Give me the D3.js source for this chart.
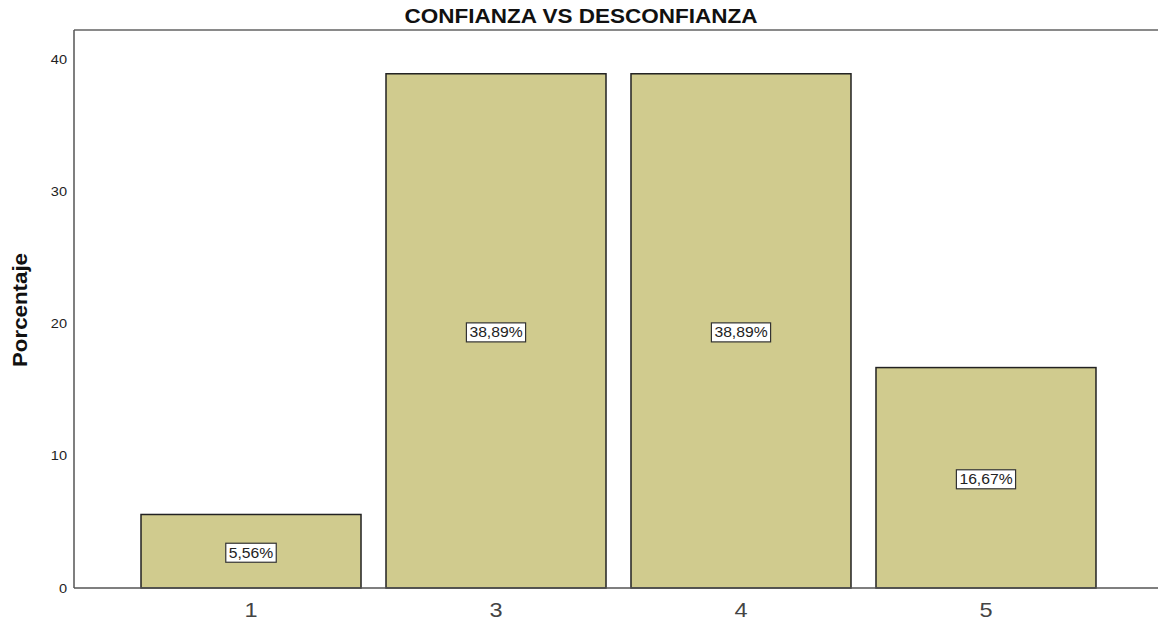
<!DOCTYPE html>
<html>
<head>
<meta charset="utf-8">
<script src="https://cdn.jsdelivr.net/npm/d3@7"></script>
<style>
  body { margin: 0; background: #fff; }
  text { font-family: "Liberation Sans", Arial, sans-serif; }
</style>
</head>
<body>
<div id="chart"></div>
<script>
// Data
var categories = ["1", "3", "4", "5"];
var percentages = [5.56, 38.89, 38.89, 16.67];
var labels = ["5,56%", "38,89%", "38,89%", "16,67%"];
var yTicks = [0, 10, 20, 30, 40];

var svgWidth = 1158;
var svgHeight = 623;

var margin = { top: 30, right: -5, bottom: 35, left: 74 };
var width = svgWidth - margin.left - margin.right;
var height = svgHeight - margin.top - margin.bottom;

// text in the original is slightly wider than Liberation Sans
var stretch = 1.12;
function widen(sel) {
  sel.each(function () {
    var w = this.getComputedTextLength();
    d3.select(this)
      .attr("textLength", w * stretch)
      .attr("lengthAdjust", "spacingAndGlyphs");
  });
}

var svg = d3.select("#chart").append("svg")
  .attr("width", svgWidth)
  .attr("height", svgHeight);

var chartGroup = svg.append("g")
  .attr("transform", `translate(${margin.left}, ${margin.top})`);

// Scales
var xScale = d3.scaleBand()
  .domain(categories)
  .range([0, width])
  .paddingInner(0.102)
  .paddingOuter(0.2735);

var yScale = d3.scaleLinear()
  .domain([0, 42.2])
  .range([height, 0]);

// Frame (top + left)
chartGroup.append("line")
  .attr("x1", 0).attr("x2", width)
  .attr("y1", 0).attr("y2", 0)
  .attr("stroke", "#8a8a8a").attr("stroke-width", 2);
chartGroup.append("line")
  .attr("x1", 0).attr("x2", 0)
  .attr("y1", 0).attr("y2", height)
  .attr("stroke", "#555").attr("stroke-width", 1.5);

// Bars
chartGroup.selectAll(".bar")
  .data(percentages)
  .enter()
  .append("rect")
  .attr("class", "bar")
  .attr("x", (d, i) => xScale(categories[i]))
  .attr("y", d => yScale(d))
  .attr("width", xScale.bandwidth())
  .attr("height", d => height - yScale(d))
  .attr("fill", "#d0cb8e")
  .attr("stroke", "#222")
  .attr("stroke-width", 1.5);

// Bottom axis line
chartGroup.append("line")
  .attr("x1", 0).attr("x2", width)
  .attr("y1", height).attr("y2", height)
  .attr("stroke", "#555").attr("stroke-width", 1.5);

// Y axis ticks (labels only)
var leftAxis = d3.axisLeft(yScale).tickValues(yTicks).tickSize(0).tickPadding(7);
var yAxis = chartGroup.append("g").call(leftAxis);
yAxis.select(".domain").remove();
yAxis.selectAll("text")
  .attr("font-size", "13px")
  .attr("fill", "#222")
  .style("font-family", "'Liberation Sans', Arial, sans-serif")
  .call(widen);

// X axis labels
var bottomAxis = d3.axisBottom(xScale).tickSize(0).tickPadding(14);
var xAxis = chartGroup.append("g")
  .attr("transform", `translate(0, ${height})`)
  .call(bottomAxis);
xAxis.select(".domain").remove();
xAxis.selectAll("text")
  .attr("font-size", "21px")
  .attr("fill", "#444")
  .style("font-family", "'Liberation Sans', Arial, sans-serif")
  .call(widen);

// Value labels
var labelGroups = chartGroup.selectAll(".valLabel")
  .data(percentages)
  .enter()
  .append("g")
  .attr("class", "valLabel")
  .attr("transform", (d, i) => `translate(${xScale(categories[i]) + xScale.bandwidth() / 2}, ${(yScale(d) + height) / 2 + 1.5})`);

labelGroups.append("rect")
  .attr("fill", "#fff")
  .attr("stroke", "#333")
  .attr("stroke-width", 1.2);

labelGroups.append("text")
  .attr("text-anchor", "middle")
  .attr("dy", "0.36em")
  .attr("font-size", "14px")
  .attr("fill", "#222")
  .text((d, i) => labels[i])
  .call(widen);

// Size boxes to text
labelGroups.each(function () {
  var g = d3.select(this);
  var w = +g.select("text").attr("textLength");
  g.select("rect")
    .attr("x", -w / 2 - 3)
    .attr("y", -9.5)
    .attr("width", w + 6)
    .attr("height", 19);
});

// Title
svg.append("text")
  .attr("x", 581)
  .attr("y", 23)
  .attr("text-anchor", "middle")
  .attr("font-size", "20px")
  .attr("font-weight", "bold")
  .attr("fill", "#111")
  .text("CONFIANZA VS DESCONFIANZA")
  .attr("textLength", 353)
  .attr("lengthAdjust", "spacingAndGlyphs");

// Y axis title
svg.append("text")
  .attr("transform", "rotate(-90)")
  .attr("x", -310)
  .attr("y", 27)
  .attr("text-anchor", "middle")
  .attr("font-size", "20px")
  .attr("font-weight", "bold")
  .attr("fill", "#111")
  .text("Porcentaje")
  .attr("textLength", 114)
  .attr("lengthAdjust", "spacingAndGlyphs");
</script>
</body>
</html>
